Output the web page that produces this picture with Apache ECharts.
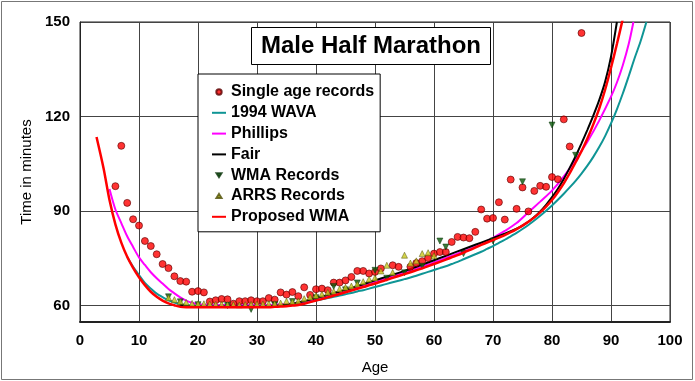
<!DOCTYPE html>
<html><head><meta charset="utf-8">
<script src="https://cdn.jsdelivr.net/npm/echarts@6/dist/echarts.min.js"></script>
<style>html,body{margin:0;padding:0;background:#fff}#c{width:695px;height:381px}</style>
</head><body><div id="c"></div>
<script>
// ---- data ----
const titleText = 'Male Half Marathon';
const xTicks = [0,10,20,30,40,50,60,70,80,90,100];
const yTicks = [60,90,120,150];

const singleAge = [[6,97.9],[7,110.7],[8,92.6],[9,87.4],[10,85.4],[11,80.5],[12,78.9],[13,76.3],[14,73.2],[15,71.9],[16,69.3],[17,67.8],[18,67.6],[19,64.4],[20,64.6],[21,64.2],[22,61.3],[23,61.7],[24,62.1],[25,62.0],[26,60.6],[27,61.4],[28,61.4],[29,61.7],[30,61.4],[31,61.4],[32,62.4],[33,61.9],[34,64.2],[35,63.5],[36,64.3],[37,63.0],[38,65.8],[39,63.4],[40,65.2],[41,65.4],[42,64.9],[43,67.3],[44,67.3],[45,68.0],[46,69.1],[47,71.0],[48,71.0],[49,70.2],[50,70.7],[51,71.8],[53,72.8],[54,72.3],[56,72.3],[57,73.5],[58,74.1],[59,75.1],[60,76.5],[61,77.0],[62,77.0],[63,80.2],[64,81.8],[65,81.6],[66,81.4],[67,83.4],[68,90.5],[69,87.6],[70,87.8],[71,92.8],[72,87.3],[73,100.0],[74,90.7],[75,97.5],[76,89.9],[77,96.4],[78,98.0],[79,97.7],[80,100.8],[81,100.1],[82,119.1],[83,110.5],[85,146.5]];

const wavaAges = [8,9,10,11,12,13,14,15,16,17,18,19,25,30,32,33,34,35,36,37,38,39,40,41,42,43,44,45,46,47,48,49,50,51,52,53,54,55,56,57,58,59,60,61,62,63,64,65,66,67,68,69,70,71,72,73,74,75,76,77,78,79,80,81,82,83,84,85,86,87,88,89,90,91,92,93,94,95,96];
const wavaTimes = [75.4,72.3,69.7,67.2,65.4,63.8,62.7,61.7,61.0,60.5,60.2,60.0,60.0,60.0,60.0,60.1,60.2,60.3,60.5,60.7,61.0,61.3,61.6,62.0,62.4,62.8,63.2,63.6,64.0,64.5,64.9,65.4,65.9,66.4,66.9,67.4,67.9,68.4,68.9,69.5,70.1,70.7,71.3,71.9,72.5,73.2,73.9,74.7,75.5,76.3,77.1,78.0,78.9,79.9,80.9,82.0,83.1,84.3,85.6,87.0,88.5,90.1,91.8,93.6,95.5,97.5,99.6,101.9,104.4,107.2,110.3,113.8,117.8,122.3,127.3,132.8,138.5,143.8,150.0];

const phillipsAges = [5,6,7,8,9,10,11,12,13,14,15,16,17,18,19,20,21,25,31,32,33,34,35,36,37,38,39,40,42,44,46,48,50,52,54,56,58,60,62,64,66,68,70,72,74,76,78,80,82,84,86,88,90,91,92,93,93.8];
const phillipsTimes = [97.0,90.5,86.2,82.0,78.6,75.3,72.9,70.6,68.7,67.0,65.3,63.9,62.6,61.6,60.9,60.5,60.3,60.2,60.2,60.2,60.3,60.4,60.5,60.7,61.0,61.3,61.7,62.1,63.1,64.2,65.3,66.4,67.5,68.7,69.9,71.1,72.4,73.7,75.1,76.5,77.9,79.5,81.5,83.7,86.2,89.6,93.0,96.5,101.0,106.3,112.0,118.7,126.3,130.8,136.3,143.0,150.0];

const fairAges = [17,18,19,25,30,31,32,33,34,35,36,37,38,39,40,42,44,46,48,50,52,54,56,58,60,62,64,66,68,70,72,74,75,76,77,78,79,80,81,82,83,84,85,86,87,88,89,90,91];
const fairTimes = [60.2,59.9,59.7,59.7,59.7,59.7,59.8,59.9,60.1,60.3,60.6,61.0,61.4,61.9,62.4,63.4,64.5,65.6,66.8,68.0,69.2,70.4,71.6,73.0,74.4,75.8,77.2,78.6,80.0,81.4,82.8,84.4,85.4,86.6,88.1,89.9,92.0,94.4,97.1,100.2,103.7,107.4,111.5,115.8,120.3,125.2,131.0,139.0,150.0];

const wmaRecords = [[15,62.8],[17,61.2],[20,60.3],[25,60.0],[29,58.8],[33,60.3],[36,61.3],[40,62.5],[43,66.1],[45,65.0],[47,67.2],[50,71.2],[52,68.7],[55,70.4],[58,72.5],[61,80.5],[62,78.6],[65,76.5],[70,80.5],[75,99.3],[80,117.3],[84,107.7]];

const arrsRecords = [[15,62.5],[16,61.9],[17,61.3],[18,61.0],[19,60.7],[20,60.6],[21,60.6],[22,60.5],[23,60.4],[24,60.4],[25,60.3],[26,60.3],[27,60.2],[28,60.3],[29,60.4],[30,60.5],[31,60.5],[32,60.6],[33,60.6],[34,60.8],[35,61.4],[36,61.2],[37,61.5],[38,62.2],[39,62.7],[40,63.2],[41,63.6],[42,64.2],[43,64.5],[44,65.3],[45,65.8],[46,66.2],[47,66.8],[48,67.6],[49,68.4],[50,68.8],[51,71.0],[52,72.8],[53,70.5],[55,76.0],[56,73.5],[57,74.2],[58,76.5],[59,76.8],[60,75.8]];

const proposedAges = [2.8,4,5,6,7,8,9,10,11,12,13,14,15,16,17,18,25,30,32,33,34,35,36,37,38,39,40,42,44,46,48,50,52,54,56,58,60,62,64,66,68,70,71,72,73,74,75,76,77,78,79,80,81,82,83,84,85,86,87,88,89,90,91,92];
const proposedTimes = [113.5,103.5,93.5,85.8,80.0,75.5,72.0,69.0,66.5,64.4,62.8,61.6,60.7,60.1,59.6,59.5,59.5,59.5,59.5,59.6,59.7,59.8,60.0,60.2,60.6,61.1,61.6,62.6,63.7,64.8,65.9,67.0,68.2,69.4,70.6,71.8,73.2,74.6,76.0,77.6,79.3,80.8,81.6,82.4,83.3,84.3,85.4,86.6,88.0,89.6,91.4,93.5,96.0,98.8,102.0,105.5,109.0,113.0,117.5,122.5,128.5,135.5,143.0,151.0];

const names = ['Single age records','1994 WAVA','Phillips','Fair','WMA Records','ARRS Records','Proposed WMA'];

// ---- chart ----
const zip = (a,b) => a.map((v,i)=>[v,b[i]]);
const FONT = 'Liberation Sans, Arial, sans-serif';
// legend icons, drawn in a 14x7 box (invisible move-to points fix the bounds)
const ICON_LINE = 'path://M0,0 M0,2.5 L14,2.5 L14,4.5 L0,4.5 Z M14,7';
const ICON_DOT = 'path://M0,0 M14,7 M9.7,3.5 A2.7,2.7 0 1 1 4.3,3.5 A2.7,2.7 0 1 1 9.7,3.5 Z';
const ICON_DOWN = 'path://M0,0 M14,7 M4.5,1.5 L9.5,1.5 L7,5.5 Z';
const ICON_UP = 'path://M0,0 M14,7 M7,1.5 L9.5,5.5 L4.5,5.5 Z';
const icons = [ICON_DOT, ICON_LINE, ICON_LINE, ICON_LINE, ICON_DOWN, ICON_UP, ICON_LINE];

const chart = echarts.init(document.getElementById('c'), null, {renderer:'canvas'});
const lineS = (name, data, color, w, z) => ({
  name, type:'line', data, showSymbol:false, symbol:'none', smooth:0.3,
  lineStyle:{color, width:w}, itemStyle:{color}, z, clip:true, animation:false
});
chart.setOption({
  animation:false,
  backgroundColor:'#fff',
  title:{
    text:titleText, left:251, top:27, padding:[6,10,6,10],
    backgroundColor:'#fff', borderColor:'#000', borderWidth:1,
    textStyle:{fontFamily:FONT, fontSize:24, fontWeight:'bold', color:'#000', lineHeight:26}
  },
  legend:{
    orient:'vertical', left:198, top:74,
    padding:[10,6,7,13], itemGap:4.8, itemWidth:14, itemHeight:7,
    backgroundColor:'#fff', borderColor:'#000', borderWidth:1,
    textStyle:{fontFamily:FONT, fontSize:16, fontWeight:'bold', color:'#000', lineHeight:16},
    data:names.map((n,i)=>({name:n, icon:icons[i]}))
  },
  grid:{left:80, top:22, right:25, bottom:59, show:true, borderColor:'#222', borderWidth:1, backgroundColor:'transparent'},
  xAxis:{
    type:'value', min:0, max:100, interval:10,
    name:'Age', nameLocation:'middle', nameGap:38,
    nameTextStyle:{fontFamily:FONT, fontSize:15, color:'#000'},
    axisLine:{show:true, onZero:false, lineStyle:{color:'#222', width:2}},
    axisTick:{show:false},
    axisLabel:{fontFamily:FONT, fontSize:15, fontWeight:'bold', color:'#000', margin:11, customValues:xTicks},
    splitLine:{show:true, lineStyle:{color:'#444', width:1}}
  },
  yAxis:{
    type:'value', min:54.8, max:150,
    name:'Time in minutes', nameLocation:'middle', nameGap:46,
    nameTextStyle:{fontFamily:FONT, fontSize:15, color:'#000'},
    axisLine:{show:true, onZero:false, lineStyle:{color:'#222', width:1}},
    axisTick:{show:false, customValues:yTicks},
    axisLabel:{fontFamily:FONT, fontSize:15, fontWeight:'bold', color:'#000', margin:10, customValues:yTicks},
    splitLine:{show:true, lineStyle:{color:'#444', width:1}}
  },
  graphic:[{type:'rect', shape:{x:1.5, y:1.5, width:691, height:378}, style:{fill:null, stroke:'#777', lineWidth:1}, silent:true, z:-1}],
  series:[
    {name:names[0], type:'scatter', data:singleAge, symbol:'circle', symbolSize:7,
     itemStyle:{color:'#ff0000', borderColor:'#5a0000', borderWidth:0.8}, z:3},
    lineS(names[1], zip(wavaAges,wavaTimes), '#0f9595', 2, 2),
    lineS(names[2], zip(phillipsAges,phillipsTimes), '#ff00ff', 2, 2),
    lineS(names[3], zip(fairAges,fairTimes), '#000000', 2, 2),
    {name:names[4], type:'scatter', data:wmaRecords, symbol:'triangle', symbolRotate:180, symbolSize:6,
     itemStyle:{color:'#0a5a0a', borderColor:'#053005', borderWidth:0.6}, z:3},
    {name:names[5], type:'scatter', data:arrsRecords, symbol:'triangle', symbolSize:6,
     itemStyle:{color:'#c8c81e', borderColor:'#4a4a00', borderWidth:0.6}, z:3},
    lineS(names[6], zip(proposedAges,proposedTimes), '#ff0000', 2.5, 4)
  ]
});
</script></body></html>
